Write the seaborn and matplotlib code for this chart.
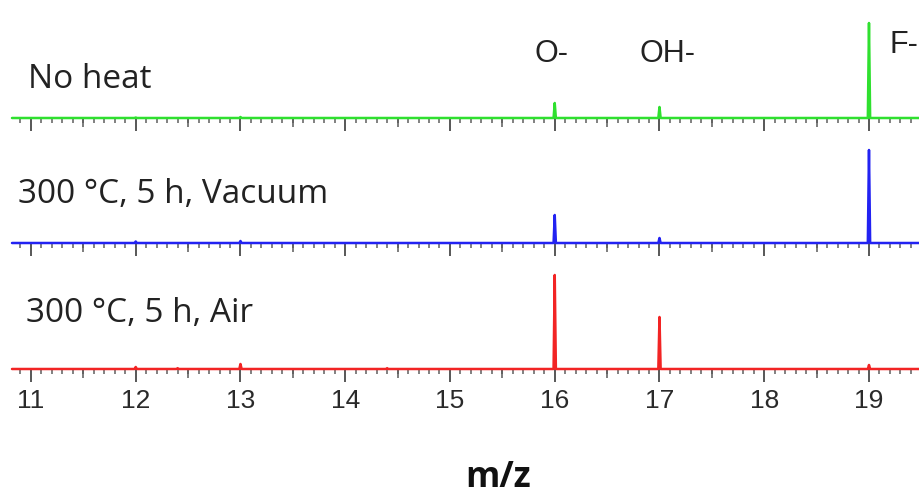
import numpy as np
import pandas as pd
import matplotlib
matplotlib.use("Agg")
import matplotlib.pyplot as plt
import seaborn as sns
from matplotlib.ticker import MultipleLocator

# --- data: peak positions (m/z) and heights (arbitrary units) ---
samples = ["No heat", "300 °C, 5 h, Vacuum", "300 °C, 5 h, Air"]
colors = ["#2fe02f", "#2222f2", "#f22424"]

peak_mz = {
    "No heat": [12, 13, 16, 17, 19],
    "300 °C, 5 h, Vacuum": [12, 13, 16, 17, 19],
    "300 °C, 5 h, Air": [12, 12.4, 13, 14.4, 16, 17, 19],
}
peak_h = {
    "No heat": [0.5, 1, 15, 11, 95],
    "300 °C, 5 h, Vacuum": [1.5, 2, 28, 5, 93],
    "300 °C, 5 h, Air": [2, 0.8, 5, 0.8, 94, 52, 4],
}
ion_labels = ["O-", "OH-", "F-"]
tick_labels = ["11", "12", "13", "14", "15", "16", "17", "18", "19"]

xmin, xmax = 10.819, 19.487
half_w = 0.011
W, H = 920, 501


def stick_frame(name):
    xs, ys = [xmin], [0.0]
    for m, h in zip(peak_mz[name], peak_h[name]):
        xs += [m - half_w, m, m + half_w]
        ys += [0.0, h, 0.0]
    xs.append(xmax)
    ys.append(0.0)
    return pd.DataFrame({"mz": xs, "intensity": ys})


sns.set_theme(style="white")
plt.rcParams["font.family"] = ["Liberation Sans", "DejaVu Sans"]

fig = plt.figure(figsize=(W / 100, H / 100), dpi=100)

baselines_px = [118, 243, 369]
panel_px = 110
tick_col = "#4a4a4a"

axes = []
for i, name in enumerate(samples):
    bottom = 1 - baselines_px[i] / H
    ax = fig.add_axes([12 / W, bottom, 1 - 12 / W, panel_px / H])
    df = stick_frame(name)
    sns.lineplot(data=df, x="mz", y="intensity", ax=ax, color=colors[i],
                 lw=1.8, estimator=None, sort=False)
    for ln in ax.lines:
        ln.set_clip_on(False)
    ax.set_xlim(xmin, xmax)
    ax.set_ylim(0, panel_px)
    for s in ax.spines.values():
        s.set_visible(False)
    ax.set_yticks([])
    ax.set_ylabel("")
    ax.set_xlabel("")
    ax.xaxis.set_major_locator(MultipleLocator(1))
    ax.xaxis.set_minor_locator(MultipleLocator(0.1))
    ax.tick_params(axis="x", which="major", direction="out", length=9.5,
                   width=1.3, color=tick_col, bottom=True)
    ax.tick_params(axis="x", which="minor", direction="out", length=3.6,
                   width=1.1, color="#5f5f5f", bottom=True)
    # half-unit ticks, a bit longer than the minor ones
    halfs = np.arange(11.5, 19.5, 1.0)
    ax.plot(halfs, np.zeros_like(halfs), ls="none", marker=3, ms=6.5,
            mew=1.1, color="#5a5a5a", clip_on=False, zorder=1)
    if i < 2:
        ax.set_xticklabels([])
    else:
        ax.set_xticks(np.arange(11, 20))
        ax.set_xticklabels(tick_labels, fontsize=19, color="#2a2a2a",
                           family="Liberation Sans")
        ax.tick_params(axis="x", which="major", pad=5)
    ax.patch.set_alpha(0)
    axes.append(ax)

# sample names
name_pos = [(28, 88), (18, 203), (26, 322)]
for name, (px, py) in zip(samples, name_pos):
    fig.text(px / W, 1 - py / H, name, family="Open Sans", fontsize=24,
             color="#222222", ha="left", va="baseline")

# ion labels
ion_pos = [(535, 62), (640, 62), (890, 53)]
for lab, (px, py) in zip(ion_labels, ion_pos):
    fig.text(px / W, 1 - py / H, lab, family="Liberation Sans", fontsize=22,
             color="#222222", ha="left", va="baseline")

fig.text(498 / W, 1 - 487 / H, "m/z", family="Open Sans", fontweight="bold",
         fontsize=25, color="#111111", ha="center", va="baseline")

fig.savefig("out.png", dpi=100)
